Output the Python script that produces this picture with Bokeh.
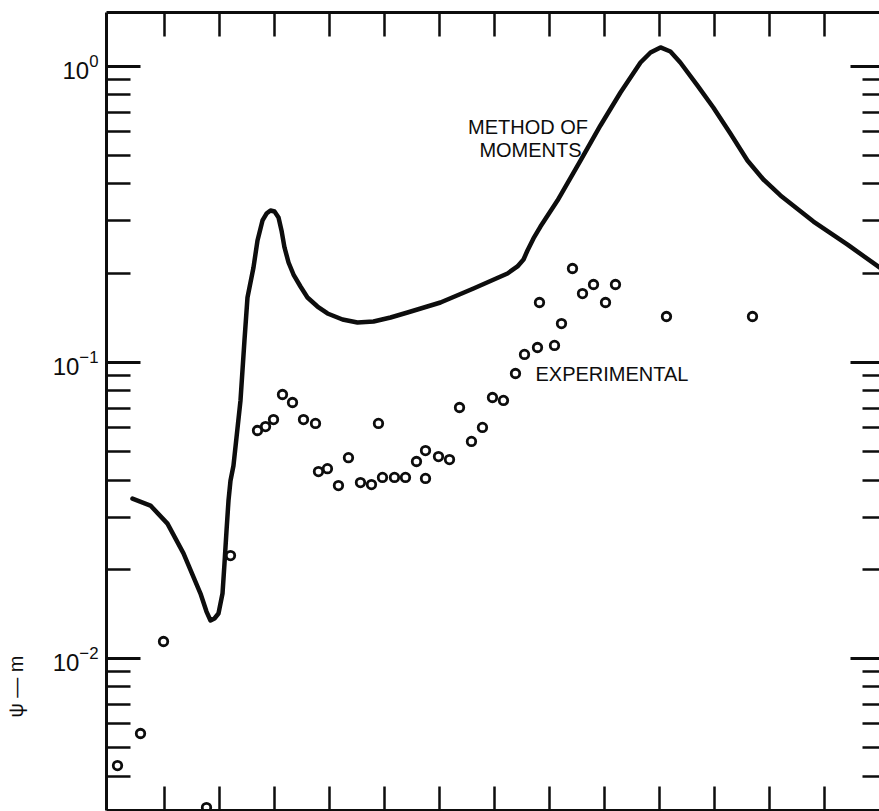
from bokeh.plotting import figure
from bokeh.models import (Range1d, LogAxis, LinearAxis, FixedTicker, LogTickFormatter,
                          CustomJSTickFormatter)
from bokeh.core.properties import value
from bokeh.embed import file_html
from bokeh.resources import INLINE

# ---- data (x in axis-tick units, psi in m) ----
mom_x = [0.425, 0.752, 1.061, 1.352, 1.661, 1.770, 1.843, 1.915, 1.988, 2.061, 2.097,
         2.134, 2.170, 2.206, 2.260, 2.388, 2.460, 2.515, 2.624, 2.697, 2.788, 2.861,
         2.933, 3.006, 3.079, 3.133, 3.188, 3.261, 3.351, 3.478, 3.605, 3.787, 3.969,
         4.242, 4.514, 4.805, 5.115, 5.423, 6.022, 6.622, 7.240, 7.421, 7.531, 7.603,
         7.712, 7.839, 8.148, 8.566, 8.929, 9.293, 9.657, 9.839, 10.02, 10.20, 10.38,
         10.69, 10.98, 11.29, 11.60, 11.89, 12.20, 12.80, 13.42, 14.0]
mom_y = [0.0346, 0.0328, 0.0285, 0.0226, 0.01654, 0.01438, 0.01341, 0.01362, 0.01416,
         0.01654, 0.02089, 0.0270, 0.0341, 0.03978, 0.0447, 0.0743, 0.1184, 0.1654,
         0.2089, 0.2577, 0.3011, 0.3179, 0.3255, 0.3229, 0.3083, 0.2786, 0.2440,
         0.2172, 0.1978, 0.1802, 0.1654, 0.1542, 0.1461, 0.1394, 0.1362, 0.1373,
         0.1416, 0.1472, 0.1591, 0.1774, 0.1994, 0.2106, 0.2223, 0.2384, 0.2618,
         0.2873, 0.3517, 0.4801, 0.6304, 0.8150, 1.029, 1.112, 1.157, 1.121, 1.029,
         0.8606, 0.7252, 0.5925, 0.4801, 0.4142, 0.3658, 0.2985, 0.2496, 0.2089]

exp_x = [0.153, 0.571, 0.989, 1.770, 2.206, 2.697, 2.843, 2.988, 3.151, 3.333, 3.533,
         3.751, 3.805, 3.968, 4.168, 4.350, 4.568, 4.768, 4.895, 4.968, 5.186, 5.386,
         5.586, 5.750, 5.750, 5.986, 6.186, 6.368, 6.585, 6.785, 6.967, 7.167, 7.385,
         7.549, 7.785, 7.821, 8.094, 8.221, 8.421, 8.603, 8.803, 9.021, 9.202, 10.129,
         11.692]
exp_y = [0.00434, 0.00557, 0.01139, 0.00313, 0.02223, 0.0588, 0.0606, 0.0640, 0.0778,
         0.0731, 0.0640, 0.0621, 0.0427, 0.0437, 0.0383, 0.0476, 0.0392, 0.0386,
         0.0621, 0.0408, 0.0408, 0.0408, 0.0462, 0.0503, 0.0405, 0.0480, 0.0469,
         0.0703, 0.0540, 0.0602, 0.0760, 0.0743, 0.0916, 0.1062, 0.1121, 0.1591,
         0.1139, 0.1351, 0.2073, 0.1706, 0.1830, 0.1591, 0.1830, 0.1427, 0.1427]

x_ticks = list(range(1, 14))
y_major = [0.01, 0.1, 1.0]
y_minor = [m * 10.0 ** k for k in (-3, -2, -1) for m in range(2, 10)]

y_title = "ψ — m"
NBSP = "\u00a0"

INK = "#0d0d0d"
FONT = "Liberation Sans"

p = figure(width=879, height=811,
           x_range=Range1d(-0.047, 14.0), y_range=Range1d(0.00306, 1.518),
           y_axis_type="log", x_axis_location=None, y_axis_location=None,
           output_backend="svg", toolbar_location=None,
           min_border_left=106, min_border_right=0, min_border_top=12, min_border_bottom=1)
p.outline_line_color = None
p.grid.grid_line_color = None
p.background_fill_color = "white"
p.border_fill_color = "white"

blank = CustomJSTickFormatter(code="return ''")

left = LogAxis(ticker=FixedTicker(ticks=y_major, minor_ticks=y_minor),
               formatter=LogTickFormatter(),
               major_tick_in=34, major_tick_out=0, minor_tick_in=24, minor_tick_out=0,
               axis_line_width=3, axis_line_color=INK,
               major_tick_line_width=3, major_tick_line_color=INK,
               minor_tick_line_width=2.5, minor_tick_line_color=INK,
               major_label_standoff=8, major_label_text_font_size="24px",
               major_label_text_font=FONT, major_label_text_color=INK,
               axis_label=y_title + NBSP * 99, axis_label_standoff=23,
               axis_label_text_font=FONT, axis_label_text_font_size="20px",
               axis_label_text_font_style="normal", axis_label_text_color=INK)
p.add_layout(left, "left")

right = LogAxis(ticker=FixedTicker(ticks=y_major, minor_ticks=y_minor),
                formatter=blank,
                major_tick_in=29, major_tick_out=0, minor_tick_in=17, minor_tick_out=0,
                axis_line_color=None,
                major_tick_line_width=3, major_tick_line_color=INK,
                minor_tick_line_width=2.5, minor_tick_line_color=INK,
                major_label_standoff=0, major_label_text_font_size="0px")
p.add_layout(right, "right")

for loc in ("above", "below"):
    ax = LinearAxis(ticker=FixedTicker(ticks=x_ticks), formatter=blank,
                    major_tick_in=24, major_tick_out=0,
                    minor_tick_line_color=None,
                    axis_line_width=3, axis_line_color=INK,
                    major_tick_line_width=2.5, major_tick_line_color=INK,
                    major_label_standoff=0, major_label_text_font_size="0px")
    p.add_layout(ax, loc)

p.line(mom_x, mom_y, line_width=4.5, line_color=INK, line_join="round", line_cap="round")
p.scatter(exp_x, exp_y, marker="circle", size=8.5, fill_color=None,
          line_color=INK, line_width=2.8)

p.text(x=[7.613, 7.658], y=[0.623, 0.521], text=["METHOD OF", "MOMENTS"],
       text_font=value(FONT), text_font_size="20px", text_color=INK,
       text_align="center", text_baseline="middle")
p.text(x=[7.748], y=[0.0912], text=["EXPERIMENTAL"],
       text_font=value(FONT), text_font_size="20px", text_color=INK,
       text_align="left", text_baseline="middle")

open("out.html", "w").write(file_html(p, INLINE))
